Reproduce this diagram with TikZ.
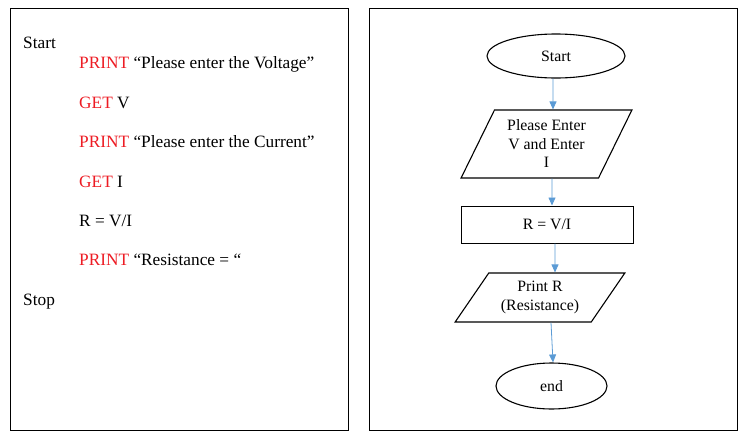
\documentclass[tikz,border=0pt]{standalone}
\usepackage{fontspec}
\setmainfont{Liberation Serif}
\usetikzlibrary{shapes.geometric, arrows.meta}
\definecolor{kwred}{RGB}{237,28,36}
\definecolor{flowblue}{RGB}{91,155,213}
\newcommand{\kw}[1]{\textcolor{kwred}{#1}}

\begin{document}
\begin{tikzpicture}[x=1pt, y=-1pt,
    panel/.style={draw, line width=1pt},
    code/.style={anchor=base west, inner sep=0pt, font=\fontsize{17.3}{20}\selectfont},
    terminal/.style={draw, ellipse, line width=1.1pt, font=\fontsize{15.8}{18.5}\selectfont},
    io/.style={draw, trapezium, trapezium stretches=true, trapezium left angle=#1, trapezium right angle=180-#1,
        line width=1.1pt, align=center, font=\fontsize{15.8}{18.5}\selectfont},
    process/.style={draw, rectangle, line width=1pt, font=\fontsize{15.8}{18.5}\selectfont},
    flow/.style={draw=flowblue, line width=0.8pt, -{Triangle[width=7pt,length=8pt]}}]
    \useasboundingbox (0,0) rectangle (748,440);

    % Pseudocode
    \draw[panel] (10,8) rectangle (348,430);
    \node[code] (pstart) at (23,48) {Start};
    \node[code] (askv) at (79,68) {\kw{PRINT} “Please enter the Voltage”};
    \node[code] (getv) at (79,108) {\kw{GET} V};
    \node[code] (aski) at (79,147.5) {\kw{PRINT} “Please enter the Current”};
    \node[code] (geti) at (79,187) {\kw{GET} I};
    \node[code] (calc) at (79,226) {R = V/I};
    \node[code] (show) at (79,265) {\kw{PRINT} “Resistance = “};
    \node[code] (pstop) at (23,305) {Stop};

    % Flowchart
    \draw[panel] (369,8) rectangle (737,430);
    \node[terminal, minimum width=138pt, minimum height=44pt] (start) at (556,56) {Start};
    \node[io=63.4, minimum width=171pt, minimum height=68pt] (inp) at (546.5,144)
        {Please Enter\\V and Enter\\I};
    \node[process, minimum width=172pt, minimum height=37pt] (rvi) at (547,224.5) {R = V/I};
    \node[io=54.5, minimum width=170pt, minimum height=49pt] (outp) at (540,297.5)
        {Print R\\(Resistance)};
    \node[terminal, minimum width=111pt, minimum height=46pt] (stop) at (551.5,386) {end};

    % Arrows
    \draw[flow] ([xshift=-3]start.south) -- ([xshift=6.5]inp.north);
    \draw[flow] ([xshift=5.5]inp.south) -- ([xshift=5]rvi.north);
    \draw[flow] ([xshift=8]rvi.south) -- ([xshift=15]outp.north);
    \draw[flow] ([xshift=11]outp.south) -- ([xshift=1.5]stop.north);
\end{tikzpicture}
\end{document}
